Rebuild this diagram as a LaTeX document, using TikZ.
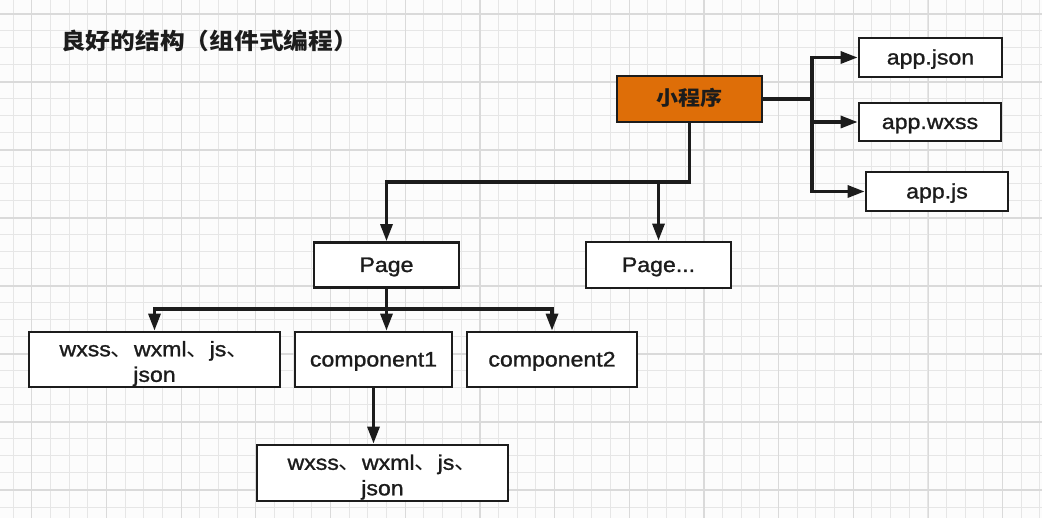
\documentclass[tikz,border=0pt]{standalone}
\usepackage{fontspec}
\setmainfont{Liberation Sans}[FakeStretch=1.1,FakeBold=1.2]
\newfontfamily\cjk{Noto Sans CJK SC}[FakeStretch=1.1]
\usetikzlibrary{arrows.meta}
\definecolor{progorange}{RGB}{222,110,8}
\definecolor{ink}{RGB}{28,28,28}
\definecolor{gridminor}{RGB}{230,230,230}
\definecolor{gridmajor}{RGB}{218,218,218}
\newcommand{\dun}{{\cjk 、}}
\tikzset{
  box/.style={draw=ink, line width=2.8pt, fill=white, inner sep=0pt, text=ink,
    font=\fontsize{21}{25.5}\selectfont, align=center},
  oneline/.style={text height=17pt, text depth=3pt},
  conn/.style={draw=ink, line width=3.2pt},
  arr/.style={conn, -{Triangle[length=17pt,width=12pt]}},
  minorgrid/.style={gridminor, line width=1pt},
  majorgrid/.style={gridmajor, line width=1.2pt}
}
\begin{document}
\begin{tikzpicture}[x=1pt,y=-1pt]
\useasboundingbox (0,0) rectangle (1042,518);
\fill[white!98!gray] (0,0) rectangle (1042,518);
% grid
\foreach \i in {0,...,56} {\draw[minorgrid] ({13+\i*18.67},0) -- ({13+\i*18.67},518);}
\foreach \i in {0,...,30} {\draw[minorgrid] (0,{14+\i*17}) -- (1042,{14+\i*17});}
\foreach \i in {0,...,13} {\draw[majorgrid] ({31.7+\i*74.7},0) -- ({31.7+\i*74.7},518);}
\foreach \i in {0,...,7} {\draw[majorgrid] (0,{14+\i*68}) -- (1042,{14+\i*68});}

% title
\node[text=ink, font=\cjk\bfseries\fontsize{22.5}{26}\selectfont, anchor=west, inner sep=0pt] (title) at (61,41) {良好的结构（组件式编程）};

% nodes
\node[box, oneline, fill=progorange, minimum width=145pt, minimum height=46pt, font=\cjk\bfseries\fontsize{20}{24}\selectfont] (prog) at (689.5,99) {小程序};
\node[box, oneline, minimum width=143pt, minimum height=39pt] (json) at (930.5,57.5) {app.json};
\node[box, oneline, minimum width=142pt, minimum height=38pt] (wxss) at (930,122) {app.wxss};
\node[box, oneline, minimum width=142pt, minimum height=39pt] (js) at (937,191.5) {app.js};
\node[box, oneline, minimum width=145pt, minimum height=45pt] (page) at (386.5,265) {Page};
\node[box, oneline, minimum width=145pt, minimum height=46pt] (page2) at (658.5,265) {Page...};
\node[box, minimum width=251pt, minimum height=55pt] (files1) at (154.5,359.5) {\\[-2pt]wxss\dun wxml\dun js\dun\\json};
\node[box, oneline, minimum width=157pt, minimum height=55pt] (comp1) at (373.5,359.5) {component1};
\node[box, oneline, minimum width=170pt, minimum height=55pt] (comp2) at (552,359.5) {component2};
\node[box, minimum width=251pt, minimum height=56pt] (files2) at (382.5,473) {\\[-2pt]wxss\dun wxml\dun js\dun\\json};

% connectors
\coordinate (bus) at (812,99);
\draw[conn] (prog.east) -- (bus);
\draw[arr] (bus) |- (json.west);
\draw[arr] (bus) |- (wxss.west);
\draw[arr] (bus) |- (js.west);

\coordinate (h1) at (prog.south |- 0,182);
\draw[arr] (prog.south) -- (h1) -| (page.north);
\draw[arr] (page2.north |- h1) -- (page2.north);

\coordinate (h2) at (page.south |- 0,309);
\draw[conn] (page.south) -- (h2);
\draw[arr] (h2) -| (files1.north);
\draw[arr] (h2) -| (comp2.north);
\draw[arr] (h2) -- (h2 |- comp1.north);
\draw[arr] (comp1.south) -- (comp1.south |- files2.north);
\end{tikzpicture}
\end{document}
